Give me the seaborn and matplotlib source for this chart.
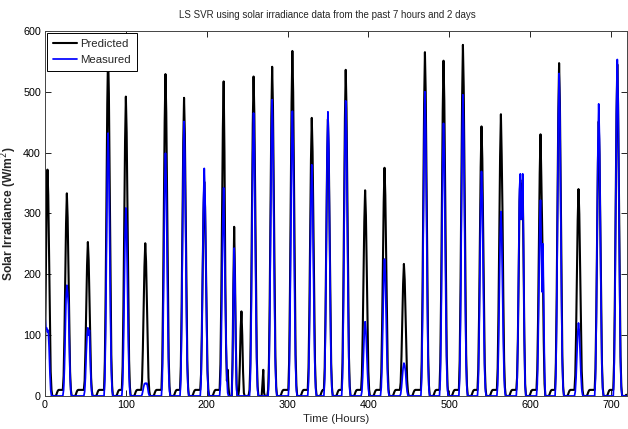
import matplotlib
matplotlib.use("Agg")
import matplotlib.pyplot as plt
from matplotlib import font_manager
import seaborn as sns
import pandas as pd

TOTAL_HOURS = 720

# Start hour of each daylight segment
SEG_START = [0, 22, 48, 73, 95, 119, 144, 167, 192, 216, 231, 239, 253, 268,
             276, 301, 325, 345, 367, 391, 415, 439, 465, 488, 512, 535, 559,
             583, 608, 631, 655, 680, 703]

# Predicted irradiance (W/m^2), hourly values of each daylight segment
PRED_SEG = [
    [60, 200, 330, 372, 330, 230, 120, 40, 10, 0],
    [10, 33, 100, 193, 283, 333, 293, 206, 110, 40, 10, 0],
    [10, 25, 76, 147, 215, 253, 223, 157, 83, 30, 8, 0],
    [10, 57, 170, 328, 480, 565, 497, 350, 186, 68, 17, 0],
    [10, 49, 148, 285, 418, 492, 433, 305, 162, 59, 15, 0],
    [10, 25, 75, 146, 213, 251, 221, 156, 83, 30, 8, 0],
    [10, 53, 159, 307, 450, 529, 466, 328, 175, 63, 16, 0],
    [10, 49, 147, 284, 417, 490, 431, 304, 162, 59, 15, 0],
    [10, 35, 106, 204, 299, 352, 310, 218, 116, 42, 11, 0],
    [10, 52, 155, 300, 440, 517, 400, 200, 80, 25, 43, 15, 0],
    [0, 60, 180, 278, 200, 90, 20, 0],
    [0, 10, 50, 110, 139, 100, 40, 5, 0],
    [10, 53, 158, 305, 446, 525, 462, 326, 173, 63, 16, 0],
    [0, 20, 43, 5, 0],
    [10, 54, 162, 314, 460, 541, 476, 335, 179, 65, 16, 0],
    [10, 57, 170, 329, 482, 567, 499, 352, 187, 68, 17, 0],
    [10, 46, 137, 265, 388, 457, 402, 283, 151, 55, 14, 0],
    [10, 46, 137, 264, 387, 455, 400, 282, 150, 55, 14, 0],
    [10, 54, 161, 311, 456, 536, 472, 332, 177, 64, 16, 0],
    [10, 34, 101, 196, 287, 338, 297, 210, 112, 41, 10, 0],
    [10, 38, 113, 218, 319, 375, 330, 233, 124, 45, 11, 0],
    [10, 22, 65, 126, 184, 217, 191, 135, 72, 26, 7, 0],
    [10, 57, 170, 328, 480, 565, 497, 350, 186, 68, 17, 0],
    [10, 55, 165, 320, 468, 551, 485, 342, 182, 66, 17, 0],
    [10, 58, 173, 335, 490, 577, 508, 358, 190, 69, 17, 0],
    [10, 44, 133, 257, 377, 443, 390, 275, 146, 53, 13, 0],
    [10, 46, 139, 269, 394, 463, 394, 300, 160, 58, 14, 0],
    [10, 30, 95, 200, 320, 355, 300, 300, 350, 230, 100, 20, 0],
    [10, 43, 129, 249, 366, 430, 360, 280, 200, 90, 20, 0],
    [10, 55, 164, 317, 465, 547, 481, 339, 181, 66, 16, 0],
    [10, 34, 102, 197, 289, 340, 299, 211, 112, 41, 10, 0],
    [10, 45, 135, 262, 383, 451, 397, 280, 149, 54, 14, 0],
    [10, 55, 164, 316, 463, 545, 480, 338, 180, 65, 16, 0],
]

# Measured irradiance (W/m^2), hourly values of each daylight segment
MEAS_SEG = [
    [130, 110, 112, 105, 108, 80, 40, 10, 0, 0],
    [0, 10, 45, 100, 160, 182, 170, 150, 90, 30, 5, 0],
    [0, 7, 30, 70, 100, 112, 100, 108, 60, 20, 3, 0],
    [0, 26, 108, 238, 367, 432, 380, 259, 130, 43, 9, 0],
    [0, 19, 77, 170, 263, 309, 272, 185, 93, 31, 6, 0],
    [0, 2, 8, 15, 20, 21, 20, 21, 14, 5, 1, 0],
    [0, 24, 100, 219, 339, 399, 351, 239, 120, 40, 8, 0],
    [0, 27, 113, 248, 383, 451, 397, 271, 135, 45, 9, 0],
    [0, 22, 94, 206, 318, 374, 329, 224, 112, 37, 7, 0],
    [0, 20, 85, 190, 290, 342, 260, 163, 90, 30, 5, 0, 0],
    [0, 50, 170, 243, 190, 80, 10, 0],
    [0, 0, 0, 0, 0, 0, 0, 0, 0],
    [0, 28, 116, 256, 395, 465, 409, 279, 140, 47, 9, 0],
    [0, 0, 0, 0, 0],
    [0, 29, 122, 268, 414, 487, 429, 292, 146, 49, 10, 0],
    [0, 28, 117, 257, 398, 468, 412, 281, 140, 47, 9, 0],
    [0, 23, 95, 209, 323, 380, 334, 228, 114, 38, 8, 0],
    [0, 28, 117, 257, 397, 467, 411, 280, 140, 47, 9, 0],
    [0, 29, 121, 267, 412, 485, 427, 291, 146, 49, 10, 0],
    [0, 7, 31, 67, 104, 122, 107, 73, 37, 12, 2, 0],
    [0, 14, 56, 124, 191, 225, 198, 135, 68, 23, 5, 0],
    [0, 3, 14, 30, 46, 54, 50, 40, 20, 7, 1, 0],
    [0, 30, 125, 275, 425, 500, 440, 300, 150, 50, 10, 0],
    [0, 27, 112, 246, 381, 448, 394, 269, 134, 45, 9, 0],
    [0, 30, 124, 272, 421, 495, 436, 297, 149, 50, 10, 0],
    [0, 22, 92, 203, 314, 369, 325, 221, 111, 37, 7, 0],
    [0, 18, 76, 167, 258, 303, 267, 182, 91, 30, 6, 0],
    [0, 20, 90, 210, 340, 365, 290, 300, 365, 240, 90, 15, 0],
    [0, 19, 80, 177, 280, 322, 240, 171, 250, 150, 40, 0],
    [0, 32, 133, 292, 451, 530, 466, 318, 159, 53, 11, 0],
    [0, 7, 30, 66, 102, 120, 106, 72, 36, 12, 2, 0],
    [0, 29, 120, 264, 408, 480, 422, 288, 144, 48, 10, 0],
    [0, 33, 138, 304, 470, 553, 487, 332, 166, 55, 11, 0],
]

# Night-time hourly values (read from the flat parts between peaks)
PRED_NIGHT = [0, 0, 0, 0, 2, 6, 9, 10, 10, 10, 10, 10, 10, 10, 10, 10, 10, 10]
MEAS_NIGHT = [0, 0, 0, 0, 0, 0, 0, 0, 0, 0, 0, 0, 0, 0, 0, 0, 0, 0]


def assemble(starts, segs, night):
    out = []
    for s, seg in zip(starts, segs):
        gap = s - len(out)
        out.extend(night[:gap])
        out.extend(seg)
    out.extend(night[:TOTAL_HOURS - len(out)])
    return out


pred = assemble(SEG_START, PRED_SEG, PRED_NIGHT)
meas = assemble(SEG_START, MEAS_SEG, MEAS_NIGHT)
n = min(len(pred), len(meas))
df = pd.DataFrame({"hour": list(range(n)), "Predicted": pred[:n], "Measured": meas[:n]})

sns.set_style("ticks")
names = {f.name for f in font_manager.fontManager.ttflist}
if "Liberation Sans Narrow" in names:
    FAM = ["Liberation Sans Narrow", "DejaVu Sans"]
    SCALE = 1.0
else:
    FAM = ["Liberation Sans", "DejaVu Sans"]
    SCALE = 0.82
plt.rcParams["font.family"] = FAM

fig = plt.figure(figsize=(6.28, 4.29), dpi=100)
ax = fig.add_axes([0.0717, 0.077, 0.9267, 0.851])

sns.lineplot(data=df, x="hour", y="Predicted", color="black", linewidth=1.5,
             label="Predicted", ax=ax)
sns.lineplot(data=df, x="hour", y="Measured", color="#0000ff", linewidth=1.25,
             label="Measured", ax=ax)

ax.set_xlim(0, 720)
ax.set_ylim(0, 600)
ax.set_xticks(range(0, 701, 100))
ax.set_yticks(range(0, 601, 100))
ax.tick_params(direction="in", top=True, right=True, length=4, width=0.6,
               labelsize=9.5 * SCALE, colors="black", pad=3)
for sp in ax.spines.values():
    sp.set_visible(True)
    sp.set_linewidth(0.7)
    sp.set_color("#444444")

ax.set_title("LS SVR using solar irradiance data from the past 7 hours and 2 days",
             fontsize=8.6 * SCALE, pad=9, x=0.485)
ax.set_xlabel("Time (Hours)", fontsize=10 * SCALE, labelpad=3)
ax.set_ylabel("Solar Irradiance (W/m$^{2}$)", fontsize=10.5 * SCALE,
              fontweight="bold", labelpad=3)

leg = ax.legend(loc="upper left", fontsize=10 * SCALE, frameon=True, fancybox=False,
                borderpad=0.55, handlelength=2.1, handletextpad=0.25,
                labelspacing=0.55, borderaxespad=0.15)
leg.get_frame().set_edgecolor("black")
leg.get_frame().set_linewidth(0.7)
leg.get_frame().set_alpha(1)

fig.savefig("out.png", dpi=100, facecolor="white")
